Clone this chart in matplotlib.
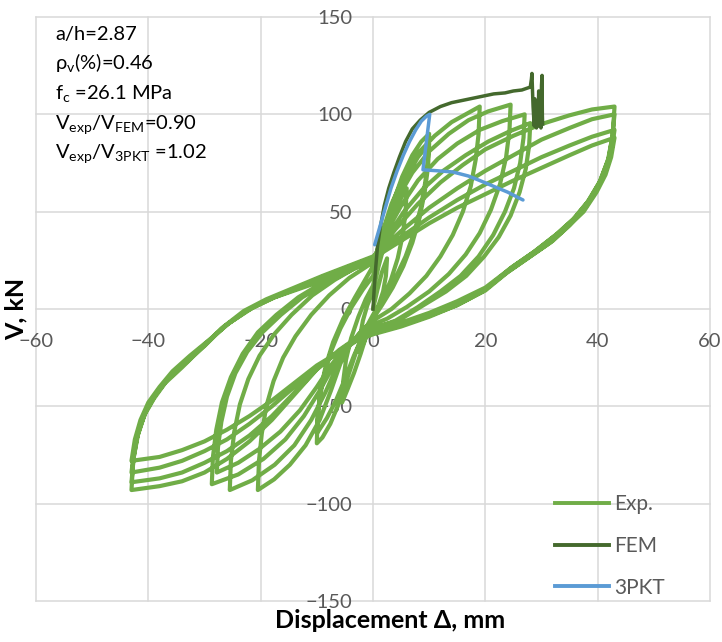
import matplotlib
matplotlib.use("Agg")
import matplotlib.pyplot as plt
from matplotlib.lines import Line2D

plt.rcParams["font.family"] = ["Lato", "DejaVu Sans"]
plt.rcParams["mathtext.fontset"] = "custom"
plt.rcParams["mathtext.rm"] = "Lato"
plt.rcParams["mathtext.default"] = "regular"

# ---------------- data ----------------
# Experimental hysteresis, one cycle per block: (displacement mm, shear kN)
exp_disp = [
    # cycle 1
    0, 0.8, 1.6, 2.5, 2.3, 1.8, 1.0, 0, -0.8, -1.6, -2.5, -2.3, -1.8, -1.0, 0,
    # cycle 2
    1.0, 2.2, 3.5, 4.8, 6.0, 5.8, 5.3, 4.4, 3.2, 1.7, 0, -1.0, -2.2, -3.4, -4.5, -5.5,
    -5.3, -4.8, -3.9, -2.6, -1.3, 0,
    # cycle 3
    1.0, 2.2, 3.6, 5.2, 7.0, 8.6, 10.0, 9.8, 9.3, 8.5, 7.3, 5.8, 4.0, 2.0, 0,
    -1.5, -3.0, -4.5, -6.0, -7.6, -9.0, -10.0, -9.9, -9.5, -8.7, -7.5, -5.8, -3.8, -1.8, 0,
    # cycle 4
    1.3, 2.8, 4.4, 6.2, 8.0, 10.0, 9.8, 9.2, 8.3, 7.0, 5.4, 3.5, 1.6, 0,
    -1.7, -3.4, -5.0, -6.6, -8.2, -10.0, -9.8, -9.3, -8.4, -7.1, -5.3, -3.2, -1.4, 0,
    # cycle 5
    1.5, 3.3, 5.5, 8.0, 11.0, 14.0, 16.5, 19.0,
    18.8, 18.3, 17.4, 16.0, 14.2, 12.0, 9.5, 6.5, 3.3, 0,
    -2.0, -4.0, -5.8, -7.5, -9.5, -12.0, -14.8, -17.6, -20.5,
    -20.3, -19.8, -19.0, -17.7, -16.0, -13.8, -11.0, -7.8, -4.2, 0,
    # cycle 6
    2.0, 4.2, 7.0, 10.0, 13.5, 17.0, 20.5, 24.5,
    24.3, 23.7, 22.6, 21.0, 19.0, 16.5, 13.5, 10.0, 6.0, 2.5, 0,
    -2.5, -4.5, -6.5, -8.5, -11.0, -14.0, -17.5, -21.5, -25.5,
    -25.3, -24.7, -23.7, -22.2, -20.2, -17.6, -14.5, -10.8, -6.8, -3.2, 0,
    # cycle 7
    2.3, 5.0, 8.0, 11.5, 15.0, 19.0, 23.0, 27.0,
    26.8, 26.2, 25.1, 23.5, 21.4, 18.8, 15.6, 12.0, 8.0, 4.0, 0,
    -2.5, -5.0, -7.2, -9.5, -12.3, -15.6, -19.5, -24.0, -28.7,
    -28.5, -27.9, -26.9, -25.3, -23.2, -20.5, -17.2, -13.3, -9.0, -4.5, 0,
    # cycle 8
    2.5, 5.5, 9.0, 12.5, 16.5, 20.5, 24.5, 28.0,
    27.8, 27.2, 26.1, 24.5, 22.4, 19.8, 16.6, 13.0, 9.0, 4.5, 0,
    -2.5, -5.0, -7.5, -10.0, -13.0, -16.5, -20.3, -24.0, -27.8,
    -27.6, -27.0, -26.0, -24.5, -22.4, -19.7, -16.4, -12.6, -8.5, -4.2, 0,
    # cycle 9
    4, 8, 12, 16, 20, 25, 30, 35, 39, 43,
    42.7, 42.0, 40.5, 38.5, 36.0, 33.0, 29.0, 25.0, 20.0, 15.0, 10.0, 5.0, 0,
    -3, -6, -10, -14, -18, -22, -26, -30, -34, -38, -43,
    -42.7, -42.0, -40.8, -39.0, -37.0, -34.0, -30.5, -27.0, -23.0, -19.0, -14.0, -9.0, -4.5, 0,
    # cycle 10
    5, 10, 15, 20, 25, 30, 35, 39, 43,
    42.6, 41.8, 40.3, 38.2, 35.6, 32.5, 28.5, 24.5, 20.0, 15.0, 10.0, 5.0, 0,
    -3, -6, -10, -14, -18, -22, -26, -30, -34, -38, -43,
    -42.6, -41.8, -40.5, -38.7, -36.5, -33.5, -30.0, -26.5, -22.5, -18.5, -13.5, -9.0, -4.5, 0,
    # cycle 11
    5, 10, 15, 20, 25, 30, 35, 39, 43,
    42.5, 41.6, 40.0, 37.8, 35.0, 32.0, 28.0, 24.0, 20.0, 15.0, 10.0, 5.0, 0,
    -3, -6, -10, -14, -18, -22, -26, -30, -34, -38, -43,
    -42.5, -41.6, -40.2, -38.3, -36.0, -33.0, -29.5, -26.0, -22.0, -18.0, -13.0, -8.5, -4.0, 0,
    # cycle 12
    5, 10, 15, 20, 25, 30, 35, 39, 43,
    42.4, 41.4, 39.8, 37.5, 34.6, 31.5, 27.5, 23.5, 19.5, 15.0, 10.0, 5.0, 0,
    -3, -6, -10, -14, -18, -22, -26, -30, -34, -38, -43,
    -42.4, -41.4, -40.0, -38.0, -35.7, -32.6, -29.0, -25.5, -21.5, -17.5, -12.5, -8.0, -4.0, 0,
]
exp_force = [
    # cycle 1
    0, 10, 19, 26, 17, 9, 2, -4, -11, -17, -22, -14, -6, 2, 9,
    # cycle 2
    22, 35, 47, 56, 62, 50, 38, 26, 15, 5, -4, -12, -23, -33, -41, -48,
    -37, -26, -15, -4, 5, 12,
    # cycle 3
    25, 40, 55, 68, 79, 86, 90, 78, 65, 52, 39, 27, 16, 6, -3,
    -11, -22, -35, -48, -59, -66, -69, -58, -46, -34, -22, -10, 1, 10, 17,
    # cycle 4
    30, 44, 57, 69, 78, 85, 73, 60, 47, 34, 22, 11, 2, -5,
    -13, -24, -36, -47, -56, -64, -53, -41, -29, -17, -5, 6, 15, 22,
    # cycle 5
    38, 54, 68, 80, 89, 96, 100, 104,
    90, 77, 63, 50, 38, 27, 17, 8, 0, -6,
    -11, -18, -28, -42, -57, -70, -80, -87.5, -93,
    -78, -64, -50, -37, -25, -14, -3, 7, 16, 24,
    # cycle 6
    40, 56, 70, 81, 90, 97, 101.5, 105,
    92, 78, 64, 51, 39, 28, 18, 9, 1, -5, -8,
    -13, -20, -30, -43, -57, -70, -80, -88, -93,
    -78, -63, -49, -36, -24, -13, -3, 7, 15, 21, 25,
    # cycle 7
    39, 53, 66, 77, 85, 92, 96.5, 100,
    88, 75, 62, 50, 38, 27, 17, 9, 1, -6, -10,
    -14, -20, -30, -42, -55, -67, -77, -85, -90,
    -76, -62, -48, -35, -23, -12, -3, 6, 13.5, 20, 25.5,
    # cycle 8
    37, 50, 62, 71, 79, 86, 91.5, 95.5,
    84, 72, 60, 48, 37, 27, 17, 9, 2, -6, -10,
    -14, -20, -29, -40, -52, -63, -72, -79, -84,
    -71, -58, -45, -33, -22, -12, -3, 6, 13, 19.5, 26,
    # cycle 9
    41, 54, 65, 74, 82, 89, 95, 99.5, 102.5, 104,
    90, 78, 66, 56, 47, 39, 30, 22, 11, 4, -2, -7, -11,
    -15, -21, -31, -44, -57, -68, -77, -84, -88.5, -91, -93,
    -78, -66, -55, -46, -38, -30, -20, -10, -1, 5, 11, 17, 22, 27,
    # cycle 10
    40, 52, 62, 71, 79, 87, 93, 97.5, 100,
    88, 76, 65, 55, 46, 38, 29, 21, 10, 3, -3, -8, -12,
    -15.5, -21.5, -31, -43, -55, -65, -73, -79, -84, -87, -89,
    -76, -64, -53, -44, -36, -28, -19, -9, -1, 5, 11, 16.5, 21.5, 26.5,
    # cycle 11
    37, 47, 56, 64, 71, 78, 84, 88.5, 92,
    82, 72, 62, 52, 43, 35, 27, 19, 9.5, 2, -3.5, -8.5, -12.5,
    -16, -22, -30, -40, -50, -59, -67, -73, -78, -81.5, -84,
    -72, -61, -51, -42, -34, -26, -17, -8, 0, 5.5, 11, 16, 21, 26,
    # cycle 12
    35, 44, 52, 59, 66, 72.5, 79, 84, 88,
    78, 69, 60, 50, 42, 34, 26, 18, 9, 2, -4, -9, -13,
    -16.5, -22, -29, -38, -47, -55, -62, -68, -72.5, -76, -78,
    -67, -57, -48, -40, -32, -24, -15.5, -7, 0.5, 6, 11, 15.5, 20, 25,
]

# Finite element monotonic response
fem_disp = [0, 0.25, 0.5, 0.8, 1.3, 2.0, 2.8, 3.7, 4.7, 5.8, 7.0, 8.4, 10.0, 12.0,
            14.0, 16.5, 19.0, 21.5, 23.5, 25.0, 26.5, 27.5, 28.0, 28.2, 28.3, 28.4,
            28.5, 28.7, 28.8, 29.0, 29.1, 29.2, 29.4, 29.5, 29.6, 29.8, 29.9, 30.0,
            30.1, 30.15, 30.2]
fem_force = [0, 12, 22, 32, 42, 53, 62, 70, 78, 86, 92.5, 97, 101, 104,
             106, 107.5, 109, 110.5, 111, 112, 112.5, 113.5, 114, 118, 121, 112,
             104, 94, 108, 100, 93, 106, 96, 112, 94, 104, 93, 115,
             120, 100, 95]

# Three-parameter kinematic theory prediction
pkt_disp = [0.3, 1.2, 2.2, 3.2, 4.3, 5.4, 6.5, 7.6, 8.6, 9.5, 10.1,
            8.9, 11.5, 14.2, 17.0, 19.0, 21.5, 24.0, 26.7]
pkt_force = [33, 42, 52, 62, 71, 79, 86, 92, 96.5, 99, 100,
             71.5, 71, 70.4, 68.3, 66, 63, 60, 56]

series_labels = ["Exp.", "FEM", "3PKT"]
series_colors = ["#70AD47", "#44692D", "#5B9BD5"]

x_ticks = [-60, -40, -20, 0, 20, 40, 60]
y_ticks = [-150, -100, -50, 0, 50, 100, 150]

info_lines = [
    "a/h=2.87",
    "ρ$_v$(%)=0.46",
    "f$_c$ =26.1 MPa",
    "V$_{exp}$/V$_{FEM}$=0.90",
    "V$_{exp}$/V$_{3PKT}$ =1.02",
]

# ---------------- figure ----------------
fig = plt.figure(figsize=(7.22, 6.42), dpi=100)
ax = fig.add_axes([36 / 722, 41 / 642, 674 / 722, 584 / 642])

ax.set_xlim(-60, 60)
ax.set_ylim(-150, 150)
ax.set_xticks(x_ticks)
ax.set_yticks(y_ticks)

grid_col = "#D9D9D9"
for xv in x_ticks:
    ax.axvline(xv, color=grid_col, lw=1.1, zorder=0, clip_on=False)
for yv in y_ticks:
    ax.axhline(yv, color=grid_col, lw=1.1, zorder=0, clip_on=False)

for s in ax.spines.values():
    s.set_visible(False)
ax.spines["left"].set_position(("data", 0))
ax.spines["bottom"].set_position(("data", 0))

ax.tick_params(axis="both", length=0, labelsize=14.5, labelcolor="#595959")
ax.tick_params(axis="y", pad=15)
ax.tick_params(axis="x", pad=17)

ax.plot(exp_disp, exp_force, color=series_colors[0], lw=3.0,
        solid_joinstyle="round", solid_capstyle="round", zorder=2)
ax.plot(fem_disp, fem_force, color=series_colors[1], lw=2.5,
        solid_joinstyle="round", zorder=3)
ax.plot(pkt_disp, pkt_force, color=series_colors[2], lw=2.5,
        solid_joinstyle="round", solid_capstyle="round", zorder=4)

for i, line in enumerate(info_lines):
    fig.text(55 / 722, 1 - (40 + i * 29.5) / 642, line, fontsize=14.5,
             color="black", ha="left", va="baseline")

fig.text(16 / 722, 1 - 309 / 642, "V, kN", rotation=90, fontsize=18,
         fontweight="bold", ha="center", va="center")
fig.text(390 / 722, 1 - 621 / 642, "Displacement Δ, mm", fontsize=18,
         fontweight="bold", ha="center", va="center")

handles = [Line2D([], [], color=c, lw=2.8) for c in series_colors]
leg = fig.legend(handles, series_labels, loc="upper left",
                 bbox_to_anchor=(555 / 722, 1 - 494 / 642), frameon=False,
                 fontsize=15, handlelength=2.6, handletextpad=0.25,
                 labelspacing=1.05, borderpad=0, borderaxespad=0)
for t in leg.get_texts():
    t.set_color("#595959")

fig.savefig("out.png", dpi=100)
